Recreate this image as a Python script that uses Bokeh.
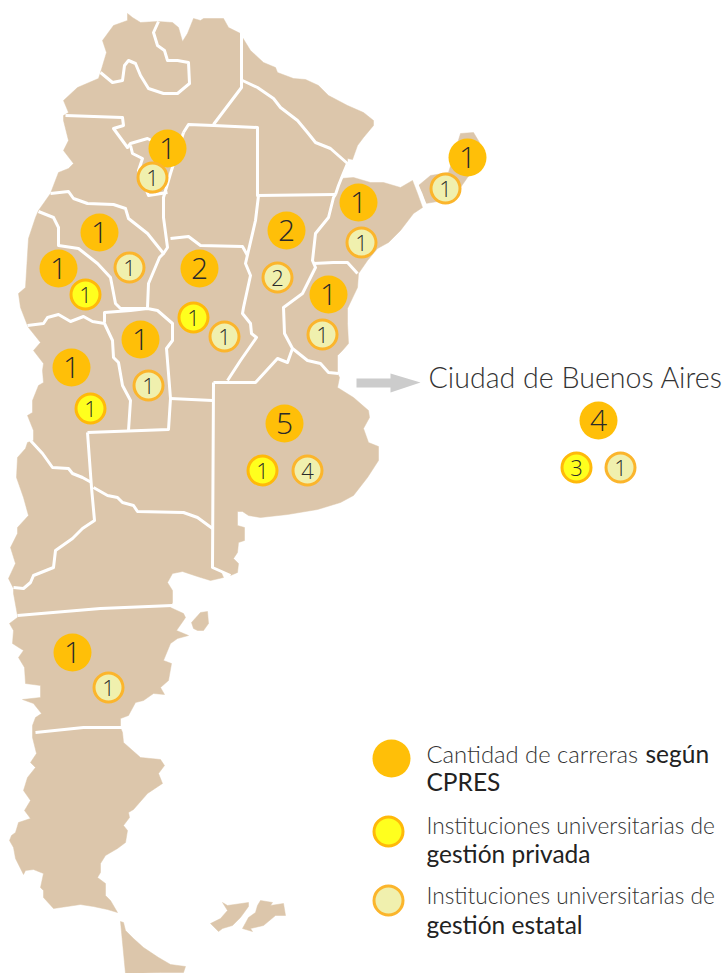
from bokeh.plotting import figure
from bokeh.embed import file_html
from bokeh.resources import INLINE
from bokeh.core.properties import value

# map outlines, in picture coordinates
mainland = [(127,13),(132,17),(140,22),(157,21),(172,22),(178,27),(182,41),(187,33),(193,18),(200,20),(203,18),(223,18),(228,27),(240,33),(242,37),(250,50),(263,62),(275,67),(277,72),(293,78),(305,79),(318,85),(328,95),(347,105),(363,112),(373,120),(373,125),(363,137),(357,145),(352,159),(347,158),(347,165),(342,173),(340,178),(353,177),(370,182),(383,182),(400,187),(412,180),(417,193),(422,207),(413,213),(400,230),(388,242),(377,248),(367,260),(358,273),(357,287),(347,308),(347,323),(348,343),(342,350),(337,355),(337,373),(339,377),(337,387),(353,397),(368,410),(369,417),(363,428),(368,442),(378,446),(378,460),(367,477),(353,495),(340,502),(317,509),(287,514),(260,517),(248,515),(242,511),(237,511),(237,525),(244,527),(244,540),(238,542),(237,552),(233,558),(238,563),(237,572),(230,575),(220,570),(223,577),(210,580),(197,576),(182,571),(172,573),(167,582),(172,590),(172,602),(170,607),(183,613),(185,617),(183,620),(176,630),(188,635),(177,638),(170,643),(163,660),(171,663),(168,680),(160,687),(164,694),(153,693),(143,700),(135,702),(128,715),(120,718),(120,727),(122,732),(123,742),(140,757),(160,759),(164,765),(158,773),(162,783),(147,793),(133,809),(128,812),(129,817),(123,825),(127,830),(125,842),(117,848),(105,855),(100,863),(100,872),(97,877),(105,883),(105,895),(110,900),(117,912),(107,909),(93,906),(80,904),(53,908),(43,897),(43,890),(40,887),(43,873),(33,869),(25,870),(23,874),(15,858),(13,847),(9,840),(11,835),(15,832),(18,822),(30,818),(24,810),(30,800),(23,790),(27,777),(35,767),(30,762),(36,753),(32,737),(32,725),(35,717),(41,713),(33,703),(22,699),(40,697),(40,685),(25,683),(24,667),(18,657),(23,650),(12,643),(13,630),(9,623),(17,617),(17,615),(13,593),(13,588),(8,578),(15,563),(10,547),(17,533),(17,527),(28,515),(23,497),(16,477),(17,457),(25,448),(27,442),(33,440),(33,430),(27,415),(32,412),(32,400),(38,385),(43,382),(42,370),(43,363),(33,350),(40,342),(28,327),(27,325),(20,307),(18,293),(25,287),(28,238),(35,217),(38,210),(50,193),(53,185),(58,172),(68,168),(73,163),(63,150),(68,140),(63,120),(63,115),(68,112),(63,100),(77,87),(98,78),(100,72),(106,52),(102,40),(113,25),(127,20)]
misiones = [(418,185),(430,175),(448,172),(460,133),(473,132),(479,142),(482,160),(467,177),(460,187),(443,200),(425,203),(422,193)]
tierra_del_fuego = [(120,921),(123,922),(125,930),(133,938),(143,947),(158,957),(170,964),(185,966),(183,972),(160,972),(125,973)]
malvinas_oeste = [(222,902),(227,905),(248,902),(248,906),(240,917),(232,925),(222,928),(218,931),(210,923),(220,918),(227,910)]
malvinas_este = [(260,900),(272,902),(270,905),(283,903),(285,915),(275,915),(263,925),(250,928),(252,931),(242,928),(248,917),(255,912),(257,905)]
isla_estados = [(191,622),(200,612),(207,611),(208,623),(203,630),(197,630),(193,628)]
land_shapes = [mainland, misiones, tierra_del_fuego, malvinas_oeste, malvinas_este, isla_estados]

# province borders
borders = [
 [(158,21),(153,32),(157,45),(164,50),(167,60),(177,60),(188,62),(189,83),(177,93),(163,93),(148,88),(140,75),(135,63),(128,60),(124,65),(122,80),(112,82),(100,72)],
 [(241,32),(241,87),(213,124)],
 [(242,80),(257,87),(273,98),(280,107),(297,120),(307,132),(315,142),(330,148),(347,163),(342,175),(338,185),(335,194)],
 [(183,132),(188,124),(213,125),(257,127),(257,195),(335,194)],
 [(335,194),(333,197),(328,217),(315,233),(312,260),(315,267),(302,293),(283,307),(284,333),(292,348),(307,360),(320,363),(328,372),(338,373)],
 [(313,263),(333,262),(347,262),(357,273)],
 [(292,348),(287,362),(277,358),(255,382),(213,382)],
 [(258,195),(255,220),(245,263),(250,275),(243,307),(242,313),(250,323),(251,333),(256,337),(240,360),(227,380)],
 [(170,398),(212,400)],
 [(213,382),(212,567),(230,575)],
 [(87,432),(168,429),(170,398),(166,348),(172,340),(172,323),(157,310),(147,308),(130,310),(104,312),(104,322)],
 [(87,432),(91,487),(94,520),(82,528),(72,538),(55,550),(53,567),(33,575),(30,582),(23,588),(13,587)],
 [(93,487),(107,495),(117,497),(122,502),(133,505),(137,511),(183,512),(197,517),(212,528)],
 [(30,440),(42,453),(52,467),(68,468),(72,473),(82,477),(91,482)],
 [(17,615),(100,608),(172,605)],
 [(35,732),(83,727),(122,727)],
 [(27,325),(43,323),(47,317),(58,314),(70,321),(83,316),(92,321),(104,323),(112,340),(113,357),(118,362),(122,385),(130,400),(128,430)],
 [(38,211),(53,217),(58,227),(58,245),(78,248),(97,263),(110,277),(115,303),(120,308),(147,308)],
 [(50,193),(68,191),(73,198),(87,203),(113,204),(125,208),(128,218),(147,233),(163,253),(167,247),(163,217),(163,197),(170,173),(183,132)],
 [(163,253),(159,257),(148,283),(147,307)],
 [(170,238),(188,236),(200,245),(242,246),(247,255)],
 [(65,115),(122,117),(123,125),(113,128),(127,147),(130,143),(147,138),(155,142)],
 [(130,145),(132,153),(142,158),(138,170),(148,195),(167,192)],
 [(414,178),(425,205)],
]

# counts per circle
carreras_x = [167,467,358,99,58,199,286,328,140,71,284,72,598]
carreras_y = [148,157,202,232,268,268,230,294,339,367,423,652,420]
carreras_n = ["1","1","1","1","1","2","2","1","1","1","5","1","4"]
privada_x = [85,193,90,262,576]
privada_y = [294,317,408,470,467]
privada_n = ["1","1","1","1","3"]
estatal_x = [152,445,361,129,277,322,224,148,307,108,620]
estatal_y = [177,188,242,267,277,334,336,385,470,687,467]
estatal_n = ["1","1","1","1","2","1","1","1","4","1","1"]

legend_x = [391,388,388]
legend_y = [758,831,900]
legend_first = ("Cantidad de carreras",426,753)
legend_light = [("Instituciones universitarias de",426,825),("Instituciones universitarias de",426,895)]
legend_bold = [("según",645,753),("CPRES",426,781),("gestión privada",426,853),("gestión estatal",426,924)]
title_text = "Ciudad de Buenos Aires"
arrow_x = [356,390,390,420,390,390,356]
arrow_y = [378,378,373,382,392,387,387]

LIGHT = value("Lato Light")
DIGIT = value("Open Sans Light")
BOLD = value("Lato")
DARK = "#333333"

p = figure(width=725, height=973, x_range=(0,725), y_range=(973,0), output_backend="svg",
           toolbar_location=None, min_border=0, background_fill_color="white", outline_line_color=None)
p.axis.visible = False
p.grid.visible = False

p.patches([[c[0] for c in s] for s in land_shapes], [[c[1] for c in s] for s in land_shapes],
          fill_color="#dcc6ab", line_color="#dcc6ab", line_width=0.5)
p.multi_line([[c[0] for c in s] for s in borders], [[c[1] for c in s] for s in borders],
             line_color="white", line_width=3, line_join="round")
p.patch(arrow_x, arrow_y, fill_color="#cccccc", line_color=None)

def big(x, y):
    p.circle(x, y, radius=19, fill_color="#ffbf08", line_color=None)
def priv(x, y):
    p.circle(x, y, radius=14.5, fill_color="#ffff1e", line_color="#ffb90a", line_width=3)
def stat(x, y):
    p.circle(x, y, radius=14.5, fill_color="#f0f0ae", line_color="#fbb52c", line_width=3)

big(carreras_x + legend_x[:1], carreras_y + legend_y[:1])
priv(privada_x + legend_x[1:2], privada_y + legend_y[1:2])
stat(estatal_x + legend_x[2:], estatal_y + legend_y[2:])

p.text(carreras_x, carreras_y, text=carreras_n, text_font=DIGIT, text_font_size="30px", text_color="#2a2a2a",
       text_align="center", text_baseline="middle")
p.text(privada_x + estatal_x, privada_y + estatal_y, text=privada_n + estatal_n, text_font=DIGIT, text_font_size="22px",
       text_color="#2a2a2a", text_align="center", text_baseline="middle")
p.text([428],[376], text=[title_text], text_font=LIGHT, text_font_size="28.6px", text_color=DARK, text_baseline="middle")
p.text([legend_first[1]],[legend_first[2]], text=[legend_first[0]], text_font=LIGHT,
       text_font_size="23.8px", text_color=DARK, text_baseline="middle")
p.text([t[1] for t in legend_light],[t[2] for t in legend_light], text=[t[0] for t in legend_light], text_font=LIGHT,
       text_font_size="22.7px", text_color=DARK, text_baseline="middle")
p.text([t[1] for t in legend_bold],[t[2] for t in legend_bold], text=[t[0] for t in legend_bold], text_font=BOLD,
       text_font_size="24.5px", text_color="#222222", text_baseline="middle")

open("out.html", "w").write(file_html(p, INLINE))
